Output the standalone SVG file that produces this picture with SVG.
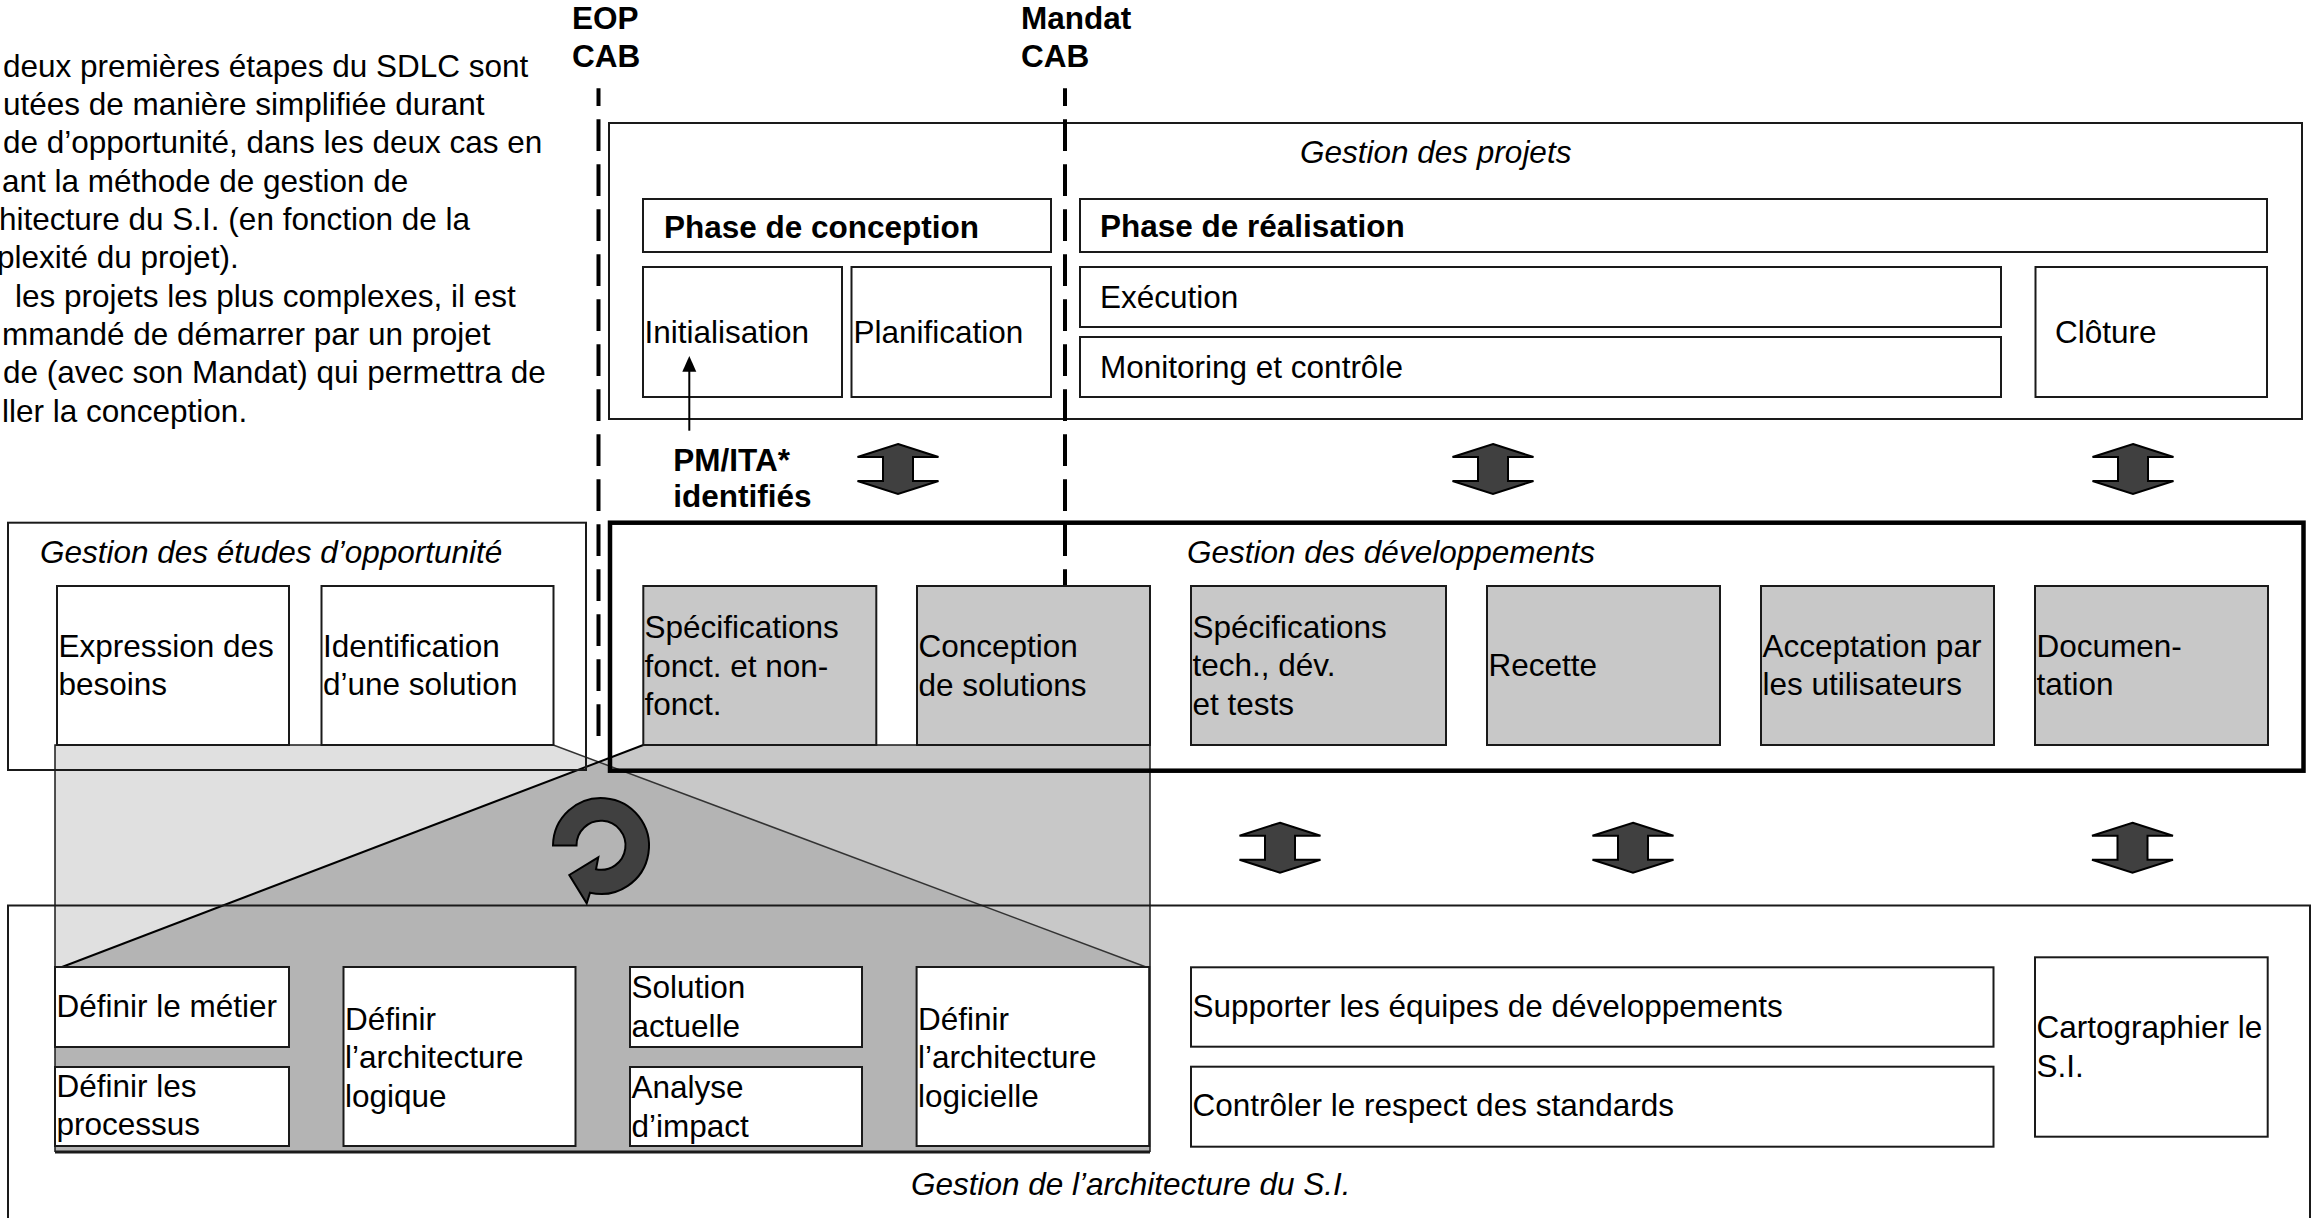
<svg xmlns="http://www.w3.org/2000/svg" width="2318" height="1218" viewBox="0 0 2318 1218">
<style>
.t{font-family:"Liberation Sans",Arial,Helvetica,sans-serif;font-size:31.5px;fill:#000}
.b{font-weight:bold}
.i{font-style:italic}
.box{fill:#fff;stroke:#1a1a1a;stroke-width:2}
.gbox{fill:#c8c8c8;stroke:#1a1a1a;stroke-width:2}
.frame{fill:none;stroke:#1a1a1a;stroke-width:2}
.dash{fill:none;stroke:#000;stroke-width:4;stroke-dasharray:31.7 13.3;stroke-dashoffset:14}
.dbl{fill:#404040;stroke:#000;stroke-width:2;stroke-linejoin:miter}
.edge{fill:none;stroke:#1a1a1a;stroke-width:1.5}
</style>
<defs>
<path id="dblArrow" d="M0,-25 L40.5,-12 L15,-12 L15,12 L40.5,12 L0,25 L-40.5,12 L-15,12 L-15,-12 L-40.5,-12 Z"/>
<marker id="ah" markerWidth="8" markerHeight="8" refX="7" refY="4" orient="auto" markerUnits="userSpaceOnUse" viewBox="0 0 8 8"><path d="M0,0 L8,4 L0,8 Z" fill="#000"/></marker>
</defs>
<rect x="0" y="0" width="2318" height="1218" fill="#fff"/>

<!-- projection / zoom region -->
<g id="zoom-region">
<polygon points="55,745 553.3,745 598.7,762 62,967 55,967" fill="#e0e0e0"/>
<polygon points="643.3,745 1150,745 1150,967 1146,967 598.7,762" fill="#c8c8c8"/>
<polygon points="598.7,762 1146,967 1150,967 1150,1152 55,1152 55,967 62,967" fill="#b4b4b4"/>
<path class="edge" d="M55,1152 V745 H553.3 M643.3,745 H1150 V1152"/>
<line x1="55" y1="1152" x2="1150" y2="1152" stroke="#1a1a1a" stroke-width="3"/>
<line x1="553.3" y1="745" x2="1146" y2="967" stroke="#333" stroke-width="1.5"/>
<line x1="643.3" y1="745" x2="62" y2="967" stroke="#000" stroke-width="2"/>
</g>

<!-- paragraph -->
<g id="note">
<text class="t" x="3" y="76.7">deux premières étapes du SDLC sont</text>
<text class="t" x="3" y="115">utées de manière simplifiée durant</text>
<text class="t" x="3" y="153.3">de d’opportunité, dans les deux cas en</text>
<text class="t" x="2" y="191.7">ant la méthode de gestion de</text>
<text class="t" x="-1" y="230">hitecture du S.I. (en fonction de la</text>
<text class="t" x="-3" y="268.3">plexité du projet).</text>
<text class="t" x="15" y="306.7">les projets les plus complexes, il est</text>
<text class="t" x="2" y="345">mmandé de démarrer par un projet</text>
<text class="t" x="3" y="383.3">de (avec son Mandat) qui permettra de</text>
<text class="t" x="2" y="421.7">ller la conception.</text>
</g>

<g id="milestone-eop">
<text class="t b" x="572" y="29.3">EOP</text>
<text class="t b" x="572" y="66.7">CAB</text>
</g>
<g id="milestone-mandat">
<text class="t b" x="1021" y="29.3">Mandat</text>
<text class="t b" x="1021" y="66.7">CAB</text>
</g>

<!-- Gestion des projets -->
<g id="gestion-projets">
<rect class="frame" x="609" y="123" width="1693" height="296"/>
<text class="t i" x="1300" y="162.7">Gestion des projets</text>
</g>
<g id="phase-conception">
<rect class="box" x="643" y="199" width="408" height="53"/>
<text class="t b" x="664" y="238">Phase de conception</text>
</g>
<g id="phase-realisation">
<rect class="box" x="1080" y="199" width="1187" height="53"/>
<text class="t b" x="1100" y="237">Phase de réalisation</text>
</g>
<g id="initialisation">
<rect class="box" x="643" y="267" width="199" height="130"/>
<text class="t" x="644.5" y="343">Initialisation</text>
</g>
<g id="planification">
<rect class="box" x="851.5" y="267" width="199.5" height="130"/>
<text class="t" x="853.5" y="343">Planification</text>
</g>
<g id="execution">
<rect class="box" x="1080" y="267" width="921" height="60"/>
<text class="t" x="1100" y="308.3">Exécution</text>
</g>
<g id="monitoring">
<rect class="box" x="1080" y="337" width="921" height="60"/>
<text class="t" x="1100" y="377.7">Monitoring et contrôle</text>
</g>
<g id="cloture">
<rect class="box" x="2035.5" y="267" width="231.5" height="130"/>
<text class="t" x="2055" y="342.7">Clôture</text>
</g>

<g id="pm-ita">
<text class="t b" x="673.3" y="470.7">PM/ITA*</text>
<text class="t b" x="673.3" y="506.7">identifiés</text>
</g>

<!-- Gestion des études d'opportunité -->
<g id="gestion-etudes">
<rect class="frame" x="8" y="522.7" width="578" height="247.3"/>
<text class="t i" x="40" y="562.7">Gestion des études d’opportunité</text>
</g>
<g id="expression">
<rect class="box" x="57" y="586" width="232" height="159"/>
<text class="t" x="58.5" y="656.7">Expression des</text>
<text class="t" x="58.5" y="695">besoins</text>
</g>
<g id="identification">
<rect class="box" x="321.5" y="586" width="232" height="159"/>
<text class="t" x="323" y="656.7">Identification</text>
<text class="t" x="323" y="695">d’une solution</text>
</g>

<!-- Gestion des développements -->
<g id="gestion-dev">
<rect x="610" y="522.7" width="1693.5" height="248" fill="none" stroke="#000" stroke-width="4.5"/>
<text class="t i" x="1187" y="562.7">Gestion des développements</text>
</g>
<g id="spec-fonct">
<rect class="gbox" x="643.3" y="586" width="233" height="159"/>
<text class="t" x="644.5" y="638.3">Spécifications</text>
<text class="t" x="644.5" y="676.7">fonct. et non-</text>
<text class="t" x="644.5" y="715">fonct.</text>
</g>
<g id="conception-solutions">
<rect class="gbox" x="917" y="586" width="233" height="159"/>
<text class="t" x="918.5" y="657">Conception</text>
<text class="t" x="918.5" y="695.5">de solutions</text>
</g>
<g id="spec-tech">
<rect class="gbox" x="1191" y="586" width="255" height="159"/>
<text class="t" x="1192.5" y="637.5">Spécifications</text>
<text class="t" x="1192.5" y="676">tech., dév.</text>
<text class="t" x="1192.5" y="714.5">et tests</text>
</g>
<g id="recette">
<rect class="gbox" x="1487" y="586" width="233" height="159"/>
<text class="t" x="1488.5" y="675.7">Recette</text>
</g>
<g id="acceptation">
<rect class="gbox" x="1761" y="586" width="233" height="159"/>
<text class="t" x="1762.5" y="656.7">Acceptation par</text>
<text class="t" x="1762.5" y="695">les utilisateurs</text>
</g>
<g id="documentation">
<rect class="gbox" x="2035" y="586" width="233" height="159"/>
<text class="t" x="2036.5" y="656.7">Documen-</text>
<text class="t" x="2036.5" y="695">tation</text>
</g>

<!-- Gestion de l'architecture -->
<g id="gestion-architecture">
<path class="frame" d="M8,1230 V905.5 H2310 V1230"/>
<text class="t i" x="911" y="1195">Gestion de l’architecture du S.I.</text>
</g>
<g id="definir-metier">
<rect class="box" x="55" y="967" width="234" height="80"/>
<text class="t" x="56.5" y="1016.7">Définir le métier</text>
</g>
<g id="definir-processus">
<rect class="box" x="55" y="1067" width="234" height="79"/>
<text class="t" x="56.5" y="1096.7">Définir les</text>
<text class="t" x="56.5" y="1135">processus</text>
</g>
<g id="archi-logique">
<rect class="box" x="343.5" y="967" width="232" height="179"/>
<text class="t" x="345" y="1030">Définir</text>
<text class="t" x="345" y="1068.3">l’architecture</text>
<text class="t" x="345" y="1106.7">logique</text>
</g>
<g id="solution-actuelle">
<rect class="box" x="630" y="967" width="232" height="80"/>
<text class="t" x="631.5" y="998.3">Solution</text>
<text class="t" x="631.5" y="1037.3">actuelle</text>
</g>
<g id="analyse-impact">
<rect class="box" x="630" y="1067" width="232" height="79"/>
<text class="t" x="631.5" y="1098.3">Analyse</text>
<text class="t" x="631.5" y="1136.5">d’impact</text>
</g>
<g id="archi-logicielle">
<rect class="box" x="916.6" y="967" width="232.6" height="179"/>
<text class="t" x="918" y="1030">Définir</text>
<text class="t" x="918" y="1068.3">l’architecture</text>
<text class="t" x="918" y="1106.7">logicielle</text>
</g>
<g id="supporter">
<rect class="box" x="1191" y="967.3" width="802.5" height="79.4"/>
<text class="t" x="1192.5" y="1016.7">Supporter les équipes de développements</text>
</g>
<g id="controler">
<rect class="box" x="1191" y="1066.7" width="802.5" height="80"/>
<text class="t" x="1192.5" y="1116">Contrôler le respect des standards</text>
</g>
<g id="cartographier">
<rect class="box" x="2035" y="957.3" width="232.7" height="179.4"/>
<text class="t" x="2036.5" y="1038.3">Cartographier le</text>
<text class="t" x="2036.5" y="1076.7">S.I.</text>
</g>

<!-- connectors -->
<g id="connectors">
<line class="dash" x1="598.5" y1="88.3" x2="598.5" y2="746"/>
<line class="dash" x1="1065" y1="88.3" x2="1065" y2="585"/>
<line x1="689.3" y1="430.7" x2="689.3" y2="371" stroke="#000" stroke-width="2"/>
<polygon points="689.3,356 696.3,371.7 682.3,371.7" fill="#000"/>
<use href="#dblArrow" class="dbl" x="898" y="469"/>
<use href="#dblArrow" class="dbl" x="1493" y="469"/>
<use href="#dblArrow" class="dbl" x="2133" y="469"/>
<use href="#dblArrow" class="dbl" x="1280" y="847.7"/>
<use href="#dblArrow" class="dbl" x="1633" y="847.7"/>
<use href="#dblArrow" class="dbl" x="2132.5" y="847.7"/>
<path class="dbl" d="M553,845.5 A48,48 0 1 1 590,892.7 L586.7,903.3 L569.3,875 L598.3,857.3 L596,869.3 A24.5,24.5 0 1 0 576.5,845.5 Z"/>
</g>
</svg>
